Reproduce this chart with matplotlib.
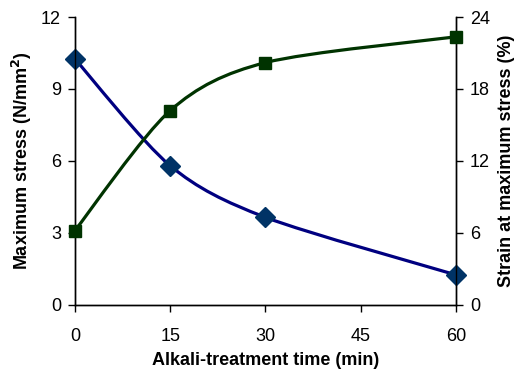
import numpy as np
import matplotlib
matplotlib.use("Agg")
import matplotlib.pyplot as plt
from matplotlib.path import Path
from matplotlib.patches import PathPatch

plt.rcParams['font.family'] = ['Liberation Sans', 'DejaVu Sans']

time_min = [0, 15, 30, 60]
max_stress = [10.25, 5.8, 3.65, 1.25]
strain = [6.2, 16.2, 20.2, 22.35]
x_ticks = [0, 15, 30, 45, 60]
left_ticks = [0, 3, 6, 9, 12]
right_ticks = [0, 6, 12, 18, 24]

def smooth_path(xs, ys, k=1/7.0):
    xs = np.asarray(xs, float); ys = np.asarray(ys, float)
    P = np.column_stack([xs, ys])
    n = len(P)
    verts = [P[0]]
    codes = [Path.MOVETO]
    for i in range(n - 1):
        p0 = P[i - 1] if i > 0 else P[i]
        p1 = P[i]; p2 = P[i + 1]
        p3 = P[i + 2] if i + 2 < n else P[i + 1]
        c1 = p1 + (p2 - p0) * k
        c2 = p2 - (p3 - p1) * k
        verts += [c1, c2, p2]
        codes += [Path.CURVE4] * 3
    return Path(verts, codes)

fig = plt.figure(figsize=(5.17, 3.70), dpi=100)
ax = fig.add_axes([0.145, 0.176, 0.737, 0.778])
ax2 = ax.twinx()

blue_line = '#000080'
blue_mark = '#003366'
green = '#003300'

ax.add_patch(PathPatch(smooth_path(time_min, max_stress), fill=False, edgecolor=blue_line, lw=2.3, zorder=3))
ax.plot(time_min, max_stress, linestyle='none', marker='D', ms=10.5, color=blue_mark, zorder=4, clip_on=False)
ax2.add_patch(PathPatch(smooth_path(time_min, strain), fill=False, edgecolor=green, lw=2.3, zorder=3))
ax2.plot(time_min, strain, linestyle='none', marker='s', ms=9, color=green, zorder=4, clip_on=False)

ax.set_xlim(0, 60)
ax.set_ylim(0, 12)
ax2.set_ylim(0, 24)
ax.set_xticks(x_ticks)
ax.set_yticks(left_ticks)
ax2.set_yticks(right_ticks)

fs = 13
for a in (ax, ax2):
    a.spines['top'].set_visible(False)
    for s in a.spines.values():
        s.set_linewidth(1.0)
ax.tick_params(axis='y', direction='out', length=5, width=1, labelsize=fs, pad=5)
ax.tick_params(axis='x', direction='out', length=5, width=1, labelsize=fs, pad=12)
ax2.tick_params(axis='y', direction='out', length=5, width=1, labelsize=fs, pad=5)

ax.set_xlabel('Alkali-treatment time (min)', fontsize=fs, fontweight='bold', labelpad=5)
ax.set_ylabel('Maximum stress (N/mm$^\\mathbf{2}$)', fontsize=fs, fontweight='bold', labelpad=5)
ax2.set_ylabel('Strain at maximum stress (%)', fontsize=fs, fontweight='bold', labelpad=6)

fig.savefig('out.png', dpi=100)
